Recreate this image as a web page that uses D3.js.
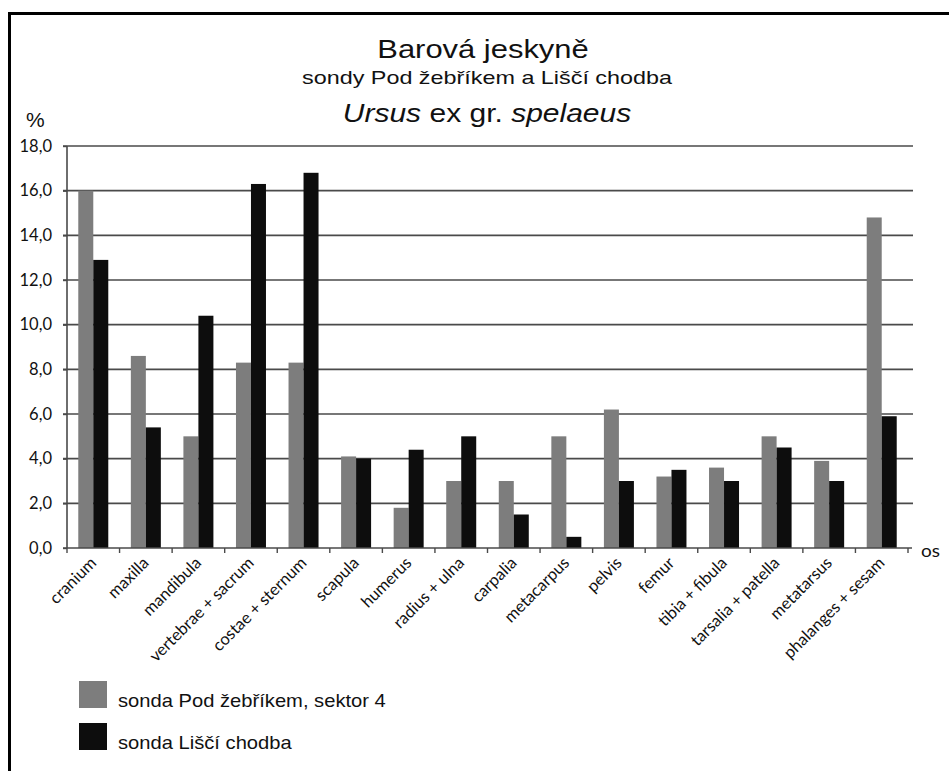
<!DOCTYPE html>
<html>
<head>
<meta charset="utf-8">
<script src="https://cdn.jsdelivr.net/npm/d3@7/dist/d3.min.js"></script>
<style>
  body { margin: 0; background: #fff; }
  svg { display: block; }
</style>
</head>
<body>
<svg id="chart" width="949" height="771"></svg>
<script>
const categories = ["cranium", "maxilla", "mandibula", "vertebrae + sacrum", "costae + sternum",
  "scapula", "humerus", "radius + ulna", "carpalia", "metacarpus", "pelvis", "femur",
  "tibia + fibula", "tarsalia + patella", "metatarsus", "phalanges + sesam"];
const podZebrikem = [16.0, 8.6, 5.0, 8.3, 8.3, 4.1, 1.8, 3.0, 3.0, 5.0, 6.2, 3.2, 3.6, 5.0, 3.9, 14.8];
const lisciChodba = [12.9, 5.4, 10.4, 16.3, 16.8, 4.0, 4.4, 5.0, 1.5, 0.5, 3.0, 3.5, 3.0, 4.5, 3.0, 5.9];
const seriesNames = ["sonda Pod žebříkem, sektor 4", "sonda Liščí chodba"];
const yTicks = [0, 2, 4, 6, 8, 10, 12, 14, 16, 18];

(function () {
const colors = ["#7d7d7d", "#0d0d0d"];
const svg = d3.select("#chart");
const labelFont = "Lato, 'Open Sans', sans-serif";
const titleFont = "'Liberation Sans', Arial, sans-serif";

// frame
svg.append("line").attr("x1", 8).attr("x2", 949).attr("y1", 13.5).attr("y2", 13.5)
  .attr("stroke", "#000").attr("stroke-width", 3);
svg.append("line").attr("x1", 9.5).attr("x2", 9.5).attr("y1", 12).attr("y2", 771)
  .attr("stroke", "#000").attr("stroke-width", 3);

const pLeft = 67, pRight = 908, pTop = 146, pBottom = 548;
const x = d3.scaleBand().domain(categories).range([pLeft, pRight]).paddingInner(0).paddingOuter(0);
const y = d3.scaleLinear().domain([0, 18]).range([pBottom, pTop]);

// gridlines
svg.append("g").selectAll("line").data(yTicks.filter(d => d > 0)).join("line")
  .attr("x1", pLeft - 4).attr("x2", 913)
  .attr("y1", d => y(d)).attr("y2", d => y(d))
  .attr("stroke", "#4a4a4a").attr("stroke-width", 1.6);

// bars
const barW = 15;
const g = svg.append("g");
categories.forEach((c, i) => {
  const cx = x(c) + x.bandwidth() / 2;
  [podZebrikem[i], lisciChodba[i]].forEach((v, s) => {
    g.append("rect")
      .attr("x", cx - barW + s * barW)
      .attr("y", y(v))
      .attr("width", barW)
      .attr("height", y(0) - y(v))
      .attr("fill", colors[s]);
  });
});

// y axis
const yAxis = d3.axisLeft(y).tickValues(yTicks).tickSize(4).tickFormat(d => d3.format(".1f")(d).replace(".", ","));
const ya = svg.append("g").attr("transform", `translate(${pLeft},0)`).call(yAxis);
ya.select(".domain").attr("stroke", "#4a4a4a").attr("stroke-width", 1.6).attr("d", `M0,${pTop}V${pBottom}`);
ya.selectAll(".tick line").attr("stroke", "#4a4a4a").attr("stroke-width", 1.4);
ya.selectAll(".tick text").attr("x", -15)
  .attr("font-family", labelFont).attr("font-size", 16.5).attr("fill", "#111");

// x axis
const xAxis = d3.axisBottom(x).tickSize(0).tickFormat("");
const xa = svg.append("g").attr("transform", `translate(0,${pBottom})`).call(xAxis);
xa.select(".domain").attr("stroke", "#4a4a4a").attr("stroke-width", 1.6).attr("d", `M${pLeft - 4},0H${pRight + 4}`);
// boundary ticks
svg.append("g").selectAll("line").data(d3.range(categories.length + 1)).join("line")
  .attr("x1", i => pLeft + i * x.bandwidth()).attr("x2", i => pLeft + i * x.bandwidth())
  .attr("y1", pBottom).attr("y2", pBottom + 5)
  .attr("stroke", "#4a4a4a").attr("stroke-width", 1.4);

// x labels
svg.append("g").selectAll("text").data(categories).join("text")
  .attr("transform", d => `translate(${x(d) + x.bandwidth() / 2 + 4},${pBottom + 16}) rotate(-45)`)
  .attr("text-anchor", "end")
  .attr("font-family", labelFont).attr("font-size", 16.5).attr("fill", "#111")
  .text(d => d);

svg.append("text").attr("transform", "translate(921,557) scale(1.15,1)").attr("font-family", labelFont)
  .attr("font-size", 16.5).attr("fill", "#111").text("os");

svg.append("text").attr("x", 26).attr("y", 127).attr("font-family", titleFont)
  .attr("font-size", 21).attr("fill", "#111").text("%");

// titles (the reference is slightly stretched horizontally)
function title(cx, yy, fs, sx) {
  return svg.append("text").attr("transform", `translate(${cx},${yy}) scale(${sx},1)`)
    .attr("text-anchor", "middle").attr("font-family", titleFont)
    .attr("font-size", fs).attr("fill", "#111");
}
title(483, 58, 26, 1.19).text("Barová jeskyně");
title(487, 84, 19, 1.23).text("sondy Pod žebříkem a Liščí chodba");
const t3 = title(487, 122, 25, 1.2);
t3.append("tspan").attr("font-style", "italic").text("Ursus");
t3.append("tspan").text(" ex gr. ");
t3.append("tspan").attr("font-style", "italic").text("spelaeus");

// legend
const legY = [681, 723];
seriesNames.forEach((n, i) => {
  svg.append("rect").attr("x", 79).attr("y", legY[i]).attr("width", 28).attr("height", 27).attr("fill", colors[i]);
  svg.append("text").attr("transform", `translate(118,${legY[i] + 26}) scale(1.12,1)`)
    .attr("font-family", titleFont)
    .attr("font-size", 18).attr("fill", "#111").text(n);
});
})();
</script>
</body>
</html>
